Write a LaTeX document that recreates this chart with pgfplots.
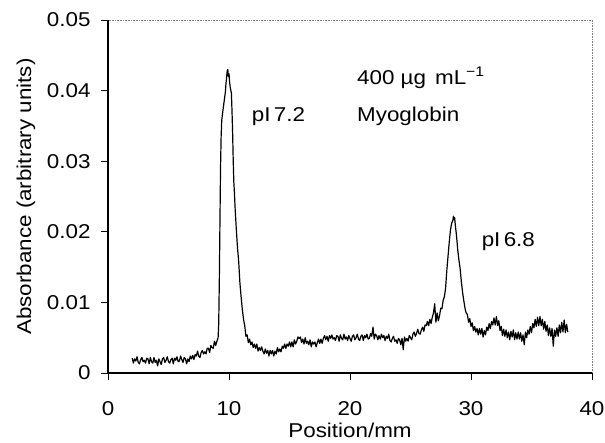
\documentclass[border=0pt]{standalone}
\usepackage{pgfplots}
\pgfplotsset{compat=1.18}
\usepackage{pgfplotstable}
\usepackage{fontspec}
\setmainfont{Liberation Sans}[FakeStretch=1.12]
\usetikzlibrary{calc}
\pgfplotstableread{
x y
2.0 21
2.1 14
2.2 20
2.3 17
2.4 23
2.5 15
2.6 13
2.7 19
2.8 22
2.9 16
3.0 18
3.1 14
3.2 21
3.3 20
3.4 13
3.5 22
3.6 16
3.7 14
3.8 22
3.9 15
4.0 18
4.1 10
4.2 20
4.3 16
4.4 12
4.5 20
4.6 22
4.7 15
4.8 18
4.9 23
5.0 16
5.1 14
5.2 19
5.3 21
5.4 13
5.5 21
5.6 18
5.7 23
5.8 16
5.9 17
6.0 24
6.1 19
6.2 15
6.3 22
6.4 20
6.5 13
6.6 20
6.7 16
6.8 24
6.9 20
7.0 25
7.1 19
7.2 26
7.3 24
7.4 31
7.5 24
7.6 22
7.7 29
7.8 32
7.9 27
8.0 30
8.1 27
8.2 35
8.3 35
8.4 29
8.5 39
8.6 36
8.7 35
8.8 45
8.9 39
9.0 45
9.1 50
9.15 70
9.2 130
9.25 210
9.3 290
9.35 335
9.4 358
9.5 372
9.6 385
9.7 398
9.75 410
9.8 418
9.85 428
9.9 430
9.95 420
10.0 424
10.05 412
10.1 405
10.2 396
10.25 370
10.3 340
10.35 300
10.4 270
10.45 255
10.5 235
10.6 205
10.7 178
10.8 158
10.9 128
11.0 108
11.1 90
11.2 76
11.3 67
11.4 52
11.5 54
11.6 43
11.7 48
11.8 40
11.9 44
12.0 36
12.1 41
12.2 35
12.3 41
12.4 31
12.5 36
12.6 32
12.7 37
12.8 31
12.9 27
13.0 34
13.1 28
13.2 32
13.3 24
13.4 32
13.5 27
13.6 32
13.7 24
13.8 31
13.9 27
14.0 36
14.1 30
14.2 34
14.3 30
14.4 38
14.5 35
14.6 41
14.7 35
14.8 41
14.9 38
15.0 44
15.1 37
15.2 44
15.3 37
15.4 47
15.5 41
15.6 45
15.7 51
15.8 49
15.9 51
16.0 43
16.1 48
16.2 41
16.3 50
16.4 42
16.5 45
16.6 40
16.7 47
16.8 37
16.9 44
17.0 41
17.1 44
17.2 37
17.3 43
17.4 48
17.5 42
17.6 48
17.7 42
17.8 49
17.9 53
18.0 47
18.1 52
18.2 45
18.3 53
18.4 49
18.5 54
18.6 48
18.7 50
18.8 46
18.9 53
19.0 52
19.1 45
19.2 54
19.3 49
19.4 47
19.5 55
19.6 48
19.7 51
19.8 46
19.9 53
20.0 49
20.1 45
20.2 52
20.3 54
20.4 47
20.5 50
20.6 55
20.7 48
20.8 46
20.9 52
21.0 54
21.1 46
21.2 53
21.3 50
21.4 55
21.5 48
21.6 49
21.7 56
21.8 52
21.9 65
22.0 48
22.1 55
22.2 53
22.3 47
22.4 53
22.5 48
22.6 55
22.7 50
22.8 53
22.9 46
23.0 52
23.1 49
23.2 55
23.3 46
23.4 44
23.5 49
23.6 52
23.7 45
23.8 47
23.9 42
24.0 49
24.1 47
24.2 40
24.3 49
24.4 33
24.5 51
24.6 45
24.7 49
24.8 45
24.9 53
25.0 50
25.1 47
25.2 55
25.3 58
25.4 52
25.5 56
25.6 62
25.7 56
25.8 55
25.9 61
26.0 65
26.1 59
26.2 68
26.3 67
26.4 73
26.5 67
26.6 76
26.7 70
26.8 79
26.9 85
27.0 98
27.1 72
27.2 85
27.3 74
27.4 81
27.5 92
27.6 91
27.7 103
27.8 108
27.9 120
28.0 145
28.1 165
28.2 185
28.3 202
28.4 212
28.5 216
28.55 222
28.6 217
28.65 220
28.7 210
28.8 195
28.9 175
29.0 160
29.1 148
29.2 130
29.3 115
29.4 103
29.5 92
29.6 85
29.7 83
29.8 72
29.9 77
30.0 66
30.1 71
30.2 60
30.3 66
30.4 58
30.5 63
30.6 54
30.7 63
30.8 55
30.9 63
31.0 51
31.1 60
31.2 54
31.3 65
31.4 60
31.5 70
31.6 63
31.7 73
31.8 68
31.9 78
32.0 68
32.1 80
32.2 67
32.3 74
32.4 60
32.5 66
32.6 53
32.7 62
32.8 52
32.9 61
33.0 50
33.1 58
33.2 47
33.3 59
33.4 51
33.5 61
33.6 47
33.7 57
33.8 48
33.9 58
34.0 48
34.1 57
34.2 45
34.3 54
34.4 40
34.5 58
34.6 50
34.7 61
34.8 55
34.9 66
35.0 57
35.1 70
35.2 64
35.3 76
35.4 66
35.5 79
35.6 67
35.7 80
35.8 67
35.9 76
36.0 62
36.1 73
36.2 59
36.3 68
36.4 53
36.5 64
36.6 52
36.7 63
36.8 38
36.9 61
37.0 52
37.1 64
37.2 52
37.3 68
37.4 57
37.5 72
37.6 58
37.7 75
37.8 57
37.9 69
38.0 58
}\trace
\begin{document}
\begin{tikzpicture}[font=\fontsize{20}{23}\selectfont]
\begin{axis}[
  scale only axis,
  width=484pt, height=353pt,
  xmin=0, xmax=40, ymin=0, ymax=0.05,
  xtick={0,10,20,30,40},
  ytick={0,0.01,0.02,0.03,0.04,0.05},
  scaled y ticks=false,
  yticklabel style={/pgf/number format/fixed, /pgf/number format/precision=2, xshift=-7pt},
  xticklabel style={yshift=-18pt},
  /pgf/number format/assume math mode=true,
  tick pos=left,
  tick align=outside,
  major tick length=7pt,
  tick style={black, line width=0.8pt},
  axis line style={gray, densely dotted, line width=0.6pt},
  xlabel={Position/mm},
  ylabel={Absorbance (arbitrary units)},
  xlabel style={at={(axis description cs:0.5,-0.163)}, anchor=center},
  ylabel style={at={(axis description cs:-0.1694,0.5)}, anchor=center},
  clip=false,
]
\addplot[black, line width=1.2pt, line join=round] table[x=x, y expr=\thisrow{y}*0.0001] {\trace};
\draw[black, line width=1.1pt] (rel axis cs:0,1) -- (rel axis cs:0,0) -- (rel axis cs:1,0);
\node[anchor=west] at (axis cs:20.3,0.0418) {400 µg\hspace{9pt}mL\textsuperscript{−1}};
\node[anchor=west] at (axis cs:20.3,0.0363) {Myoglobin};
\node[anchor=west] at (axis cs:11.6,0.0363) {pI\,7.2};
\node[anchor=west] at (axis cs:30.6,0.0186) {pI\,6.8};
\coordinate (sw) at (rel axis cs:0,0);
\coordinate (ne) at (rel axis cs:1,1);
\end{axis}
\pgfresetboundingbox
\path[use as bounding box] ($(sw)+(-108pt,-70pt)$) rectangle ($(ne)+(13pt,20pt)$);
\end{tikzpicture}
\end{document}
